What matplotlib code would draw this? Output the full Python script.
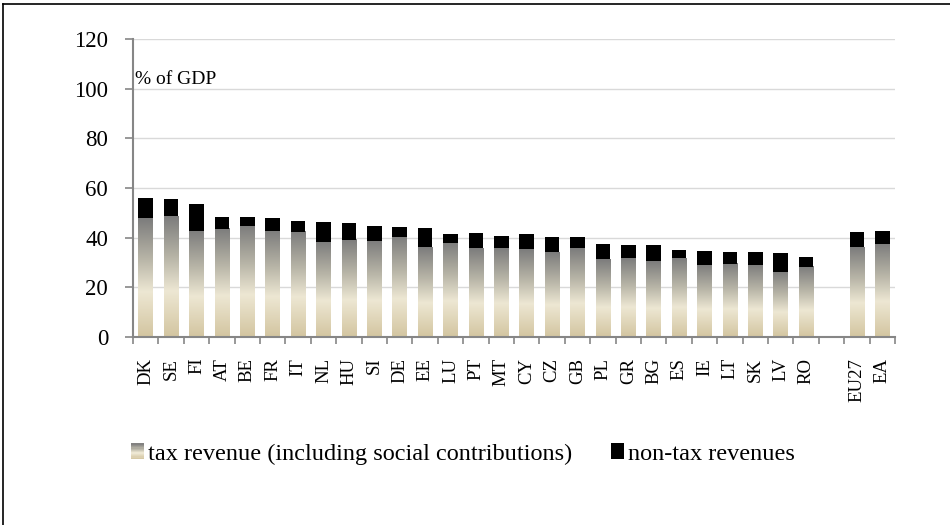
import numpy as np
import matplotlib.pyplot as plt
from matplotlib.colors import LinearSegmentedColormap
from matplotlib.patches import Rectangle
from matplotlib.legend_handler import HandlerBase
from matplotlib.lines import Line2D

# Datos (% del PIB); '' es el hueco antes de EU27
paises = ['DK', 'SE', 'FI', 'AT', 'BE', 'FR', 'IT', 'NL', 'HU', 'SI', 'DE', 'EE', 'LU',
          'PT', 'MT', 'CY', 'CZ', 'GB', 'PL', 'GR', 'BG', 'ES', 'IE', 'LT', 'SK', 'LV', 'RO',
          '', 'EU27', 'EA']
impuestos = [47.9, 48.7, 42.7, 43.5, 44.7, 42.7, 42.3, 38.3, 39.1, 38.7, 40.3, 36.2, 37.9,
             35.8, 35.8, 35.4, 34.2, 35.8, 31.4, 31.8, 30.6, 31.8, 29.0, 29.4, 29.0, 26.2, 28.2,
             np.nan, 36.2, 37.5]
total = [55.9, 55.6, 53.6, 48.3, 48.3, 47.9, 46.7, 46.3, 45.9, 44.7, 44.3, 43.9, 41.5,
         41.9, 40.7, 41.5, 40.3, 40.3, 37.5, 37.1, 37.1, 35.0, 34.6, 34.2, 34.2, 33.8, 32.2,
         np.nan, 42.3, 42.7]
no_impuestos = [t - i for t, i in zip(total, impuestos)]

etiqueta_imp = 'tax revenue (including social contributions)'
etiqueta_noimp = 'non-tax revenues'

plt.rcParams['font.family'] = ['Liberation Serif', 'DejaVu Serif']

# degradado: beige abajo, crema, gris arriba
cmap = LinearSegmentedColormap.from_list(
    'grad', [(0.0, '#d3c5a0'), (0.38, '#ede7d3'), (0.65, '#b9b6a8'), (1.0, '#7c7c7c')])

x = np.arange(len(paises))
ancho = 0.58

fig = plt.figure(figsize=(9.5, 5.25), dpi=100)
ax = fig.add_axes([133 / 950, 1 - 337 / 525, (895 - 133) / 950, (337 - 39) / 525])

barras = ax.bar(x, np.nan_to_num(impuestos), width=ancho, color='none', zorder=2)
grad = np.linspace(0, 1, 256).reshape(-1, 1)
for b, v in zip(barras, impuestos):
    if np.isnan(v):
        continue
    ax.imshow(grad, cmap=cmap, origin='lower', aspect='auto', zorder=2,
              extent=(b.get_x(), b.get_x() + b.get_width(), 0, v))
ax.bar(x, np.nan_to_num(no_impuestos), width=ancho, bottom=np.nan_to_num(impuestos),
       color='black', zorder=3)

ax.set_xlim(-0.5, len(paises) - 0.5)
ax.set_ylim(0, 120)
ax.set_yticks(np.arange(0, 121, 20))
ax.yaxis.grid(True, color='#d9d9d9', linewidth=1)
ax.set_axisbelow(True)

ax.set_xticks(x)
ax.set_xticklabels(paises, rotation=90, fontsize=13.5, va='top')
ax.set_xticks(np.arange(-0.5, len(paises), 1), minor=True)
ax.tick_params(axis='x', which='major', length=0, pad=15)
ax.tick_params(axis='x', which='minor', length=5, color='#868686', width=1.2)
ax.tick_params(axis='y', labelsize=16.5, length=6, color='#868686', width=1.2, pad=12)

for lado in ['top', 'right']:
    ax.spines[lado].set_visible(False)
for lado in ['left', 'bottom']:
    ax.spines[lado].set_color('#868686')
    ax.spines[lado].set_linewidth(1.5)

ax.text(-0.42, 103.5, '% of GDP', fontsize=14, va='center', ha='left')


class HandlerDegradado(HandlerBase):
    def create_artists(self, legend, orig_handle, xdescent, ydescent, width, height, fontsize, trans):
        n = 12
        artistas = []
        for k in range(n):
            r = Rectangle((-xdescent, -ydescent + height * k / n), width, height / n + 0.3,
                          facecolor=cmap((k + 0.5) / n), edgecolor='none', transform=trans)
            artistas.append(r)
        return artistas


h_imp = Rectangle((0, 0), 1, 1)
h_noimp = Rectangle((0, 0), 1, 1, facecolor='black')
fig.legend([h_imp, h_noimp], [etiqueta_imp, etiqueta_noimp],
           handler_map={h_imp: HandlerDegradado()},
           loc='center left', bbox_to_anchor=(131 / 950, 1 - 454 / 525), ncol=2,
           frameon=False, fontsize=17.5, handlelength=0.52, handleheight=0.62,
           handletextpad=0.17, columnspacing=1.6, borderaxespad=0, borderpad=0)

# marco de la figura (solo arriba e izquierda visibles)
fig.add_artist(Line2D([3 / 950, 3 / 950], [0, 1 - 4 / 525], color='black', linewidth=1.2))
fig.add_artist(Line2D([3 / 950, 1], [1 - 4 / 525, 1 - 4 / 525], color='black', linewidth=1.2))

fig.savefig('out.png', dpi=100)
